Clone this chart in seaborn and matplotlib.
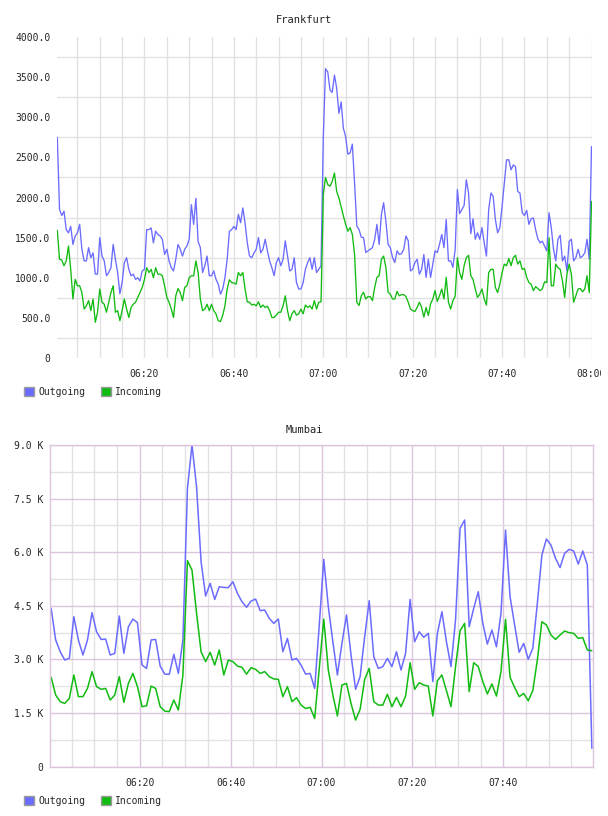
import matplotlib
matplotlib.use("Agg")
import matplotlib.pyplot as plt
import matplotlib.dates as mdates
from matplotlib.patches import Patch
from matplotlib.ticker import FixedLocator, FuncFormatter
from matplotlib.transforms import Bbox, TransformedBbox
import numpy as np
import pandas as pd
import seaborn as sns

# Frankfurt, one sample every 30 s from 06:00:30
fra_out = [
    2750, 1850, 1775, 1830, 1600, 1560, 1640, 1415, 1520, 1560,
    1665, 1355, 1210, 1210, 1375, 1250, 1310, 1045, 1045, 1500,
    1270, 1210, 1025, 1065, 1125, 1415, 1230, 1065, 800, 940,
    1190, 1250, 1105, 1025, 1045, 980, 1000, 960, 1085, 1105,
    1600, 1600, 1620, 1435, 1580, 1540, 1520, 1480, 1290, 1355,
    1210, 1125, 1085, 1230, 1415, 1355, 1270, 1355, 1395, 1480,
    1910, 1665, 1990, 1450, 1375, 1065, 1150, 1270, 1025, 1025,
    1085, 980, 920, 795, 860, 1000, 1230, 1580, 1600, 1640,
    1600, 1790, 1685, 1870, 1685, 1435, 1270, 1250, 1310, 1355,
    1500, 1310, 1355, 1480, 1335, 1210, 1125, 1025, 1190, 1250,
    1150, 1230, 1460, 1270, 1085, 1105, 1250, 940, 860, 860,
    940, 1105, 1190, 1250, 1105, 1250, 1065, 1105, 1150,
    2740, 3605, 3565, 3340, 3310, 3525, 3360, 3050, 3190, 2860,
    2760, 2540, 2555, 2665, 2180, 1645, 1600, 1505, 1500, 1315,
    1335, 1355, 1375, 1480, 1665, 1415, 1790, 1935, 1705, 1415,
    1375, 1250, 1190, 1335, 1290, 1300, 1355, 1520, 1460, 1085,
    1105, 1190, 1230, 1045, 1105, 1290, 1005, 1230, 1005, 1170,
    1335, 1315, 1415, 1540, 1375, 1725, 1210, 1210, 1130, 1350,
    2100,
    1800, 1850, 1900, 2220, 2055, 1550, 1735, 1480, 1560, 1480,
    1625, 1435, 1270, 1850, 2055, 2015, 1725, 1560, 1625, 1890,
    2180, 2470, 2470, 2345, 2405, 2385, 2075, 2055, 1810, 1775,
    1840, 1665, 1735, 1745, 1600, 1485, 1435, 1455, 1395, 1335,
    1810, 1625, 1355, 1210, 1480, 1530, 1210, 1270, 1085, 1455,
    1480, 1210, 1250, 1355, 1250, 1270, 1310, 1480, 1230, 2635,
]
fra_in = [
    1590, 1230, 1220, 1150, 1210, 1395, 1105, 735, 980, 900,
    900, 815, 610, 650, 715, 590, 735, 445, 570, 860,
    695, 670, 570, 695, 815, 900, 570, 590, 465, 590,
    735, 610, 505, 630, 670, 695, 755, 815, 880, 980,
    1125, 1065, 1105, 1000, 1125, 1045, 1045, 1025, 900, 755,
    695, 610, 505, 775, 865, 815, 715, 880, 900, 1000,
    1025, 1025, 1210, 1065, 735, 590, 610, 670, 590, 670,
    590, 550, 465, 455, 530, 650, 860, 975, 940, 935,
    920, 1065, 1025, 1065, 860, 700, 695, 660, 670, 650,
    700, 630, 660, 630, 645, 590, 505, 505, 535, 570,
    570, 650, 775, 590, 465, 550, 590, 535, 550, 610,
    550, 660, 630, 650, 610, 715, 610, 695, 700,
    2035, 2250, 2160, 2140, 2200, 2305, 2075, 1995, 1880, 1770,
    1665, 1580, 1625, 1540, 1290, 695, 655, 775, 820, 735,
    765, 765, 715, 880, 1005, 1025, 1230, 1270, 1130, 820,
    795, 735, 735, 830, 775, 790, 790, 765, 695, 610,
    590, 580, 630, 695, 630, 510, 630, 530, 675, 735,
    840, 705, 775, 860, 735, 1005, 695, 610, 715, 770,
    1250,
    1065, 980, 1150, 1250, 1280, 1025, 980, 860, 755, 795,
    860, 735, 660, 1065, 1105, 1105, 880, 815, 920, 1065,
    1170, 1150, 1240, 1150, 1250, 1280, 1170, 1210, 1105, 1115,
    1005, 940, 920, 840, 890, 865, 840, 860, 950, 940,
    1500, 900, 900, 1170, 1125, 1105, 960, 755, 1045, 1170,
    1045, 695, 775, 860, 865, 825, 860, 1025, 815, 1950,
]

# Mumbai, one sample per minute from 06:00:30
mum_out = [
    4430, 3545, 3215, 2985, 3030, 4195, 3545, 3125, 3545, 4310,
    3775, 3560, 3570, 3125, 3170, 4215, 3170, 3915, 4130, 4030,
    2845, 2750, 3545, 3560, 2815, 2590, 2585, 3145, 2610, 3545,
    7790, 9000, 7835, 5735, 4775, 5130, 4680, 5035, 5015, 5010,
    5175, 4850, 4615, 4460, 4635, 4690, 4365, 4385, 4150, 4010,
    4130, 3215, 3590, 2985, 3030, 2845, 2590, 2610, 2190, 3950,
    5800, 4475, 3495, 2565, 3450, 4245, 3125, 2165, 2520, 3635,
    4645, 3080, 2750, 2800, 3030, 2800, 3215, 2705, 3170, 4680,
    3495, 3775, 3620, 3730, 2380, 3730, 4335, 3495, 2800, 4105,
    6670, 6900, 3915, 4430, 4895, 4010, 3430, 3825, 3355, 4290,
    6620, 4755, 3965, 3200, 3450, 3005, 3310, 4570, 5920, 6370,
    6200, 5830, 5570, 5970, 6080, 6035, 5670, 6035, 5640, 515,
]
mum_in = [
    2500, 2005, 1820, 1770, 1910, 2565, 1960, 1960, 2190, 2660,
    2240, 2165, 2190, 1865, 2005, 2520, 1800, 2330, 2610, 2240,
    1680, 1705, 2255, 2190, 1680, 1555, 1540, 1865, 1585, 2565,
    5765, 5500, 4300, 3215, 2940, 3200, 2845, 3265, 2565, 2985,
    2940, 2815, 2780, 2590, 2770, 2725, 2610, 2660, 2520, 2455,
    2445, 1960, 2240, 1820, 1930, 1725, 1630, 1660, 1350, 2740,
    4130, 2705, 2005, 1420, 2285, 2330, 1770, 1305, 1605, 2445,
    2750, 1820, 1725, 1725, 2025, 1680, 1940, 1680, 1975, 2910,
    2165, 2350, 2285, 2255, 1420, 2405, 2565, 2125, 1680, 2800,
    3805, 4010, 2100, 2910, 2800, 2380, 2035, 2315, 1975, 2660,
    4120, 2500, 2220, 1960, 2050, 1845, 2125, 2985, 4055, 3965,
    3685, 3560, 3685, 3795, 3750, 3730, 3590, 3610, 3265, 3245,
]

series_names = ["Outgoing", "Incoming"]
series_colors = ["#6b6bff", "#11bb11"]

fra_times = pd.date_range("2024-01-01 06:00:30", periods=len(fra_out), freq="30s")
mum_times = pd.date_range("2024-01-01 06:00:30", periods=len(mum_out), freq="1min")

fra = pd.DataFrame({"time": fra_times, "Outgoing": fra_out, "Incoming": fra_in})
fra = fra.melt(id_vars="time", var_name="series", value_name="value")
mum = pd.DataFrame({"time": mum_times, "Outgoing": mum_out, "Incoming": mum_in})
mum = mum.melt(id_vars="time", var_name="series", value_name="value")

sns.set_style("white")
plt.rcParams["font.family"] = ["DejaVu Sans Mono"]
plt.rcParams["font.size"] = 7

W, H = 608, 816
fig = plt.figure(figsize=(W / 100, H / 100), dpi=100)

GRAY = "#e2e2e2"
PINK = "#dcc4dc"


def fig_rect(x0, y0, x1, y1):
    return [x0 / W, 1 - y1 / H, (x1 - x0) / W, (y1 - y0) / H]


def draw_lines(ax, df, lw):
    sns.lineplot(data=df, x="time", y="value", hue="series",
                 hue_order=series_names, palette=series_colors,
                 linewidth=lw, legend=False, ax=ax)
    ax.set_xlabel("")
    ax.set_ylabel("")


def add_legend(y_px):
    handles = [Patch(facecolor=c, edgecolor="#9a9a9a", linewidth=1.0, label=n)
               for n, c in zip(series_names, series_colors)]
    fig.legend(handles=handles, loc="center left",
               bbox_to_anchor=(24 / W, 1 - y_px / H), ncol=2, frameon=False,
               fontsize=7, handlelength=1.05, handleheight=1.05,
               handletextpad=0.45, columnspacing=1.55, borderpad=0,
               borderaxespad=0)


# ---------- Frankfurt ----------
ax1 = fig.add_axes(fig_rect(57.3, 37, 591.5, 358))
draw_lines(ax1, fra, 0.95)
ax1.set_xlim(pd.Timestamp("2024-01-01 06:00:30"), pd.Timestamp("2024-01-01 08:00:00"))
ax1.set_ylim(0, 4000)
ax1.yaxis.set_major_locator(FixedLocator(np.arange(0, 4001, 500)))
ax1.yaxis.set_minor_locator(FixedLocator(np.arange(250, 4000, 500)))
ax1.yaxis.set_major_formatter(FuncFormatter(lambda v, p: "0" if v == 0 else f"{v:.1f}"))
ax1.xaxis.set_major_locator(mdates.MinuteLocator(byminute=[0, 20, 40]))
ax1.xaxis.set_minor_locator(mdates.MinuteLocator(byminute=range(0, 60, 5)))
ax1.xaxis.set_major_formatter(mdates.DateFormatter("%H:%M"))
ax1.grid(False)
ax1.grid(True, which="minor", color=GRAY, linewidth=1.0)
ax1.grid(True, which="major", axis="x", color=GRAY, linewidth=1.0)
for s in ax1.spines.values():
    s.set_visible(False)
ax1.tick_params(which="both", length=0)
ax1.tick_params(axis="y", pad=5)
ax1.tick_params(axis="x", pad=8)
ax1.set_axisbelow(True)
fig.text(0.5, 1 - 20 / H, "Frankfurt", ha="center", va="center", fontsize=7.5, color="#222222")
add_legend(392)

# ---------- Mumbai ----------
ax2 = fig.add_axes(fig_rect(50, 445, 593, 766.7))
draw_lines(ax2, mum, 1.1)
ax2.set_xlim(pd.Timestamp("2024-01-01 06:00:15"), pd.Timestamp("2024-01-01 07:59:45"))
ax2.set_ylim(0, 9000)
ax2.yaxis.set_major_locator(FixedLocator(np.arange(0, 9001, 1500)))
ax2.yaxis.set_minor_locator(FixedLocator(np.arange(750, 9000, 1500)))
ax2.yaxis.set_major_formatter(FuncFormatter(lambda v, p: "0" if v == 0 else f"{v / 1000:.1f} K"))
ax2.xaxis.set_major_locator(mdates.MinuteLocator(byminute=[0, 20, 40]))
ax2.xaxis.set_minor_locator(mdates.MinuteLocator(byminute=range(0, 60, 5)))
ax2.xaxis.set_major_formatter(mdates.DateFormatter("%H:%M"))
ax2.grid(False)
ax2.grid(True, which="minor", color=GRAY, linewidth=1.0)
ax2.grid(True, which="major", color=PINK, linewidth=1.0)
for s in ax2.spines.values():
    s.set_visible(True)
    s.set_color(PINK)
    s.set_linewidth(1.0)
ax2.tick_params(which="both", length=0)
ax2.tick_params(axis="y", pad=5)
ax2.tick_params(axis="x", pad=8)
ax2.set_axisbelow(True)
fig.text(0.5, 1 - 430 / H, "Mumbai", ha="center", va="center", fontsize=7.5, color="#222222")
add_legend(800.5)

# the last Frankfurt time label is cut by the canvas edge in the original
fig.canvas.draw()
clip = TransformedBbox(Bbox([[0, 0], [601 / W, 1]]), fig.transFigure)
for lbl in ax1.get_xticklabels():
    if lbl.get_text() == "08:00":
        lbl.set_clip_on(True)
        lbl.set_clip_box(clip)

fig.savefig("out.png", dpi=100)
